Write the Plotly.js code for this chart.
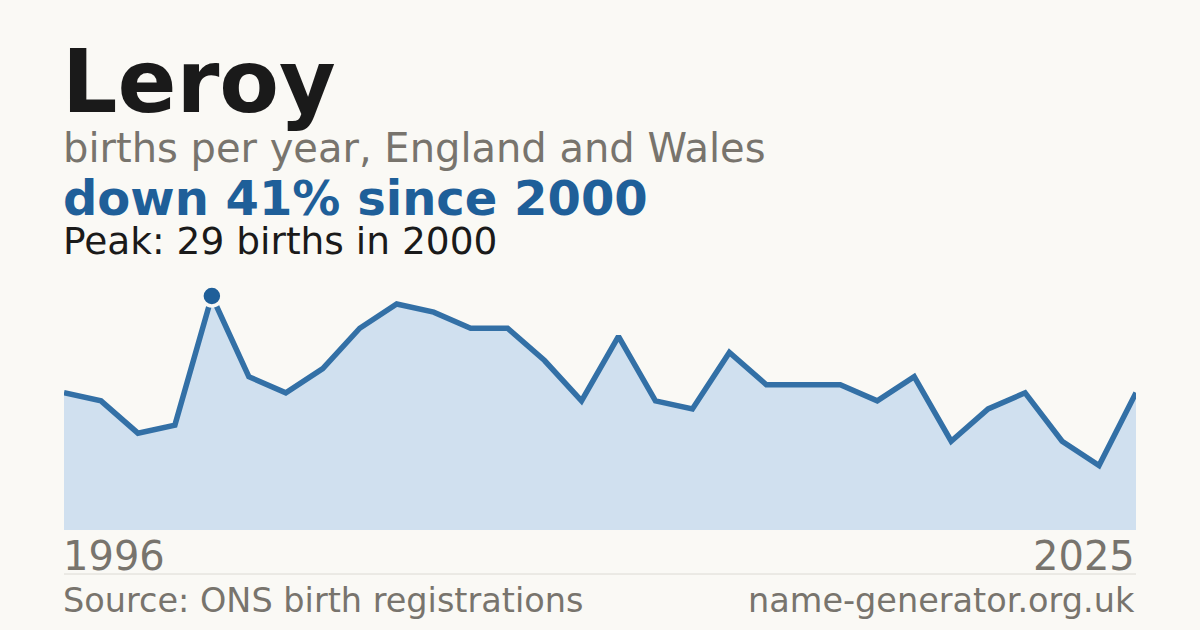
<!DOCTYPE html>
<html>
<head>
<meta charset="utf-8">
<script src="https://cdn.plot.ly/plotly-3.0.1.min.js"></script>
<style>
html,body{margin:0;padding:0;background:#faf9f5;}
#chart{width:1200px;height:630px;}
</style>
</head>
<body>
<div id="chart"></div>
<script>
const years = [1996,1997,1998,1999,2000,2001,2002,2003,2004,2005,2006,2007,2008,2009,2010,2011,2012,2013,2014,2015,2016,2017,2018,2019,2020,2021,2022,2023,2024,2025];
const births = [17,16,12,13,29,19,17,20,25,28,27,25,25,21,16,24,16,15,22,18,18,18,16,19,11,15,17,11,8,17];
const nameTitle = "Leroy";
const subtitle = "births per year, England and Wales";
const headline = "down 41% since 2000";
const peakText = "Peak: 29 births in 2000";
const sourceText = "Source: ONS birth registrations";
const siteText = "name-generator.org.uk";

const peakIdx = births.indexOf(Math.max(...births));
const font = "DejaVu Sans, Verdana, sans-serif";
const bg = "#faf9f5";

const traces = [
  {
    x: years, y: births, type: "scatter", mode: "lines",
    fill: "tozeroy", fillcolor: "#d0e0ef",
    line: {color: "#3370a6", width: 5.5, shape: "linear"},
    hoverinfo: "skip"
  },
  {
    x: [years[peakIdx]], y: [births[peakIdx]], type: "scatter", mode: "markers",
    marker: {size: 20, color: "#1f5f99", line: {color: bg, width: 3.5}},
    cliponaxis: false, hoverinfo: "skip"
  }
];

function pyPaper(py){ return (530 - py) / 250; }
function pxPaper(px){ return (px - 64) / 1072; }

const layout = {
  width: 1200, height: 630,
  paper_bgcolor: bg, plot_bgcolor: bg,
  margin: {l: 64, r: 64, t: 280, b: 100, pad: 0},
  showlegend: false,
  xaxis: {range: [years[0], years[years.length-1]], visible: false, fixedrange: true},
  yaxis: {range: [0, 30.98], visible: false, fixedrange: true},
  shapes: [
    {type: "line", xref: "paper", yref: "paper", x0: 0, x1: 1, y0: pyPaper(574), y1: pyPaper(574),
     line: {color: "#dcdad4", width: 1}}
  ],
  annotations: [
    {text: "<b>" + nameTitle + "</b>", xref: "paper", yref: "paper", x: pxPaper(61), y: pyPaper(134),
     xanchor: "left", yanchor: "bottom", showarrow: false, borderpad: 0,
     font: {family: font, size: 87, color: "#1a1a1a"}},
    {text: subtitle, xref: "paper", yref: "paper", x: pxPaper(62), y: pyPaper(172),
     xanchor: "left", yanchor: "bottom", showarrow: false, borderpad: 0,
     font: {family: font, size: 40, color: "#78746d"}},
    {text: "<b>" + headline + "</b>", xref: "paper", yref: "paper", x: pxPaper(62), y: pyPaper(227),
     xanchor: "left", yanchor: "bottom", showarrow: false, borderpad: 0,
     font: {family: font, size: 48, color: "#1f5f99"}},
    {text: peakText, xref: "paper", yref: "paper", x: pxPaper(62), y: pyPaper(264),
     xanchor: "left", yanchor: "bottom", showarrow: false, borderpad: 0,
     font: {family: font, size: 37.5, color: "#1a1a1a"}},
    {text: String(years[0]), xref: "x", yref: "paper", x: years[0], y: pyPaper(580), xshift: -2,
     xanchor: "left", yanchor: "bottom", showarrow: false, borderpad: 0,
     font: {family: font, size: 40, color: "#78746d"}},
    {text: String(years[years.length-1]), xref: "x", yref: "paper", x: years[years.length-1], y: pyPaper(580),
     xanchor: "right", yanchor: "bottom", showarrow: false, borderpad: 0,
     font: {family: font, size: 40, color: "#78746d"}},
    {text: sourceText, xref: "paper", yref: "paper", x: 0, y: pyPaper(621), xshift: -2,
     xanchor: "left", yanchor: "bottom", showarrow: false, borderpad: 0,
     font: {family: font, size: 33.5, color: "#78746d"}},
    {text: siteText, xref: "paper", yref: "paper", x: 1, y: pyPaper(621),
     xanchor: "right", yanchor: "bottom", showarrow: false, borderpad: 0,
     font: {family: font, size: 33.5, color: "#78746d"}}
  ]
};

Plotly.newPlot("chart", traces, layout, {staticPlot: true, displayModeBar: false});
</script>
</body>
</html>
